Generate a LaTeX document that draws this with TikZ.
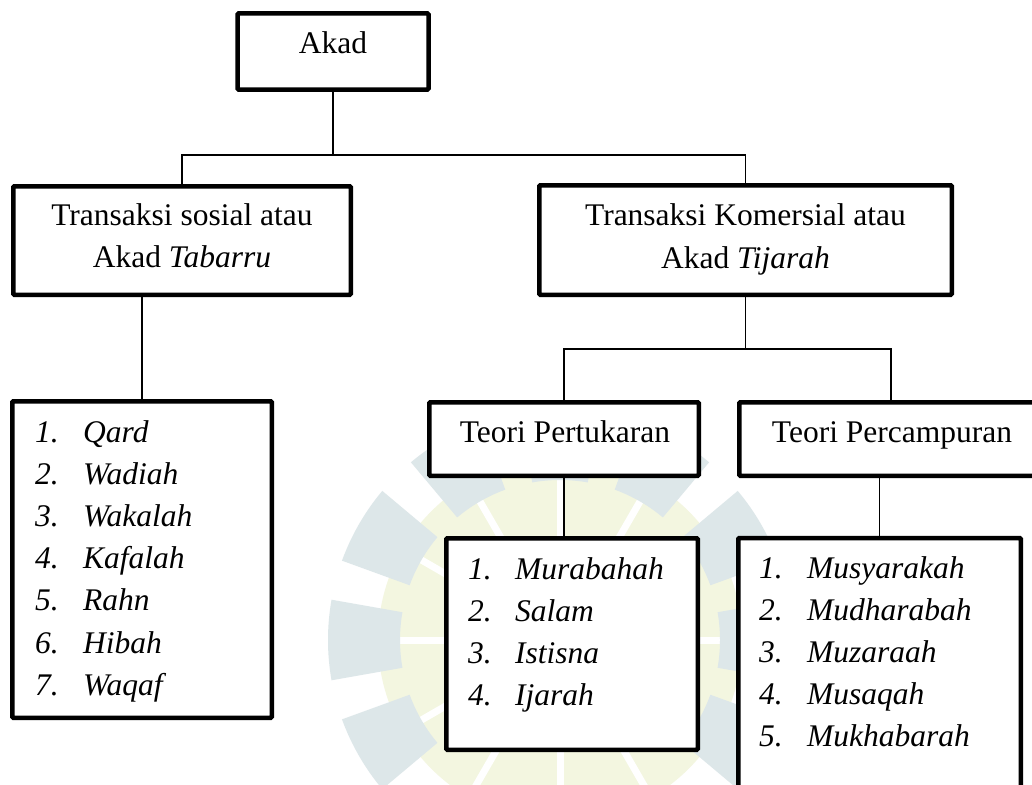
\documentclass[tikz,border=0pt]{standalone}
\usepackage{fontspec}
\setmainfont{Liberation Serif}
\definecolor{wmgray}{RGB}{221,231,233}
\definecolor{wmgreen}{RGB}{243,246,224}
\begin{document}
\begin{tikzpicture}[x=1pt,y=-1pt,
  box/.style={draw=black,line width=4.5pt,fill=white,inner sep=0pt,rounded corners=1pt},
  link/.style={draw=black,line width=1.1pt},
  lbl/.style={inner sep=0pt,anchor=base,font=\fontsize{31.5}{42.2}\selectfont},
  lst/.style={inner sep=0pt,anchor=base west,font=\fontsize{31.5}{42.2}\selectfont\itshape}]
\useasboundingbox (0,0) rectangle (1032,784);
\begin{scope}
\clip (0,0) rectangle (1032,784);
\fill[white] (0,0) rectangle (1032,784);
% faint watermark
\begin{scope}[shift={(560,640)}]
\fill[wmgreen] (0,0) circle (182);
\foreach \a in {0,30,...,330} \draw[white,line width=7pt] (0,0) -- (\a:190);
\foreach \a in {0,30,150,180,210,240,270,300,330}
  \fill[wmgray] (\a-10:160) -- (\a-10:232) arc[start angle=\a-10,end angle=\a+10,radius=232] -- (\a+10:160) arc[start angle=\a+10,end angle=\a-10,radius=160] -- cycle;
\end{scope}
% boxes
\node[box,minimum width=191pt,minimum height=76pt] (akad) at (333,51.5) {};
\node[box,minimum width=337.5pt,minimum height=108.5pt] (tabarru) at (182,240.5) {};
\node[box,minimum width=412.5pt,minimum height=109.5pt] (tijarah) at (745.5,240) {};
\node[box,minimum width=269.5pt,minimum height=73.5pt] (pertukaran) at (564,439) {};
\node[box,minimum width=303.5pt,minimum height=73.5pt] (percampuran) at (891,439) {};
\node[box,minimum width=259.5pt,minimum height=316.5pt] (lista) at (142,559.5) {};
\node[box,minimum width=251.5pt,minimum height=211.5pt] (listb) at (572,644) {};
\node[box,minimum width=282.5pt,minimum height=271.75pt] (listc) at (879.5,674) {};
% texts
\node[lbl] (takad) at (333,53) {Akad};
\node[lbl] (ttab1) at (182,225) {Transaksi sosial atau};
\node[lbl] (ttab2) at (182,267) {Akad \textit{Tabarru}};
\node[lbl] (ttij1) at (745.5,225) {Transaksi Komersial atau};
\node[lbl] (ttij2) at (745.5,268) {Akad \textit{Tijarah}};
\node[lbl] (tper) at (565,442) {Teori Pertukaran};
\node[lbl] (tcam) at (892,442) {Teori Percampuran};
\node[lst] (la) at (35,442) {\begin{tabular}[t]{@{}p{48pt}@{}l@{}}1.&Qard\\2.&Wadiah\\3.&Wakalah\\4.&Kafalah\\5.&Rahn\\6.&Hibah\\7.&Waqaf\end{tabular}};
\node[lst] (lb) at (468,579) {\begin{tabular}[t]{@{}p{47pt}@{}l@{}}1.&Murabahah\\2.&Salam\\3.&Istisna\\4.&Ijarah\end{tabular}};
\node[lst] (lc) at (759,578) {\begin{tabular}[t]{@{}p{48pt}@{}l@{}}1.&Musyarakah\\2.&Mudharabah\\3.&Muzaraah\\4.&Musaqah\\5.&Mukhabarah\end{tabular}};
% connectors
\coordinate (j1) at (333,155);
\draw[link] (akad.south) -- (j1);
\draw[link] (tabarru.north) |- (j1) -| (tijarah.north);
\draw[link] (tabarru.south -| lista.north) -- (lista.north);
\coordinate (j2) at (745.5,349);
\draw[link] (tijarah.south) -- (j2);
\draw[link] (pertukaran.north) |- (j2) -| (percampuran.north);
\draw[link] (pertukaran.south) -- (pertukaran.south |- listb.north);
\draw[link] (listc.north |- percampuran.south) -- (listc.north);
\end{scope}
\end{tikzpicture}
\end{document}
